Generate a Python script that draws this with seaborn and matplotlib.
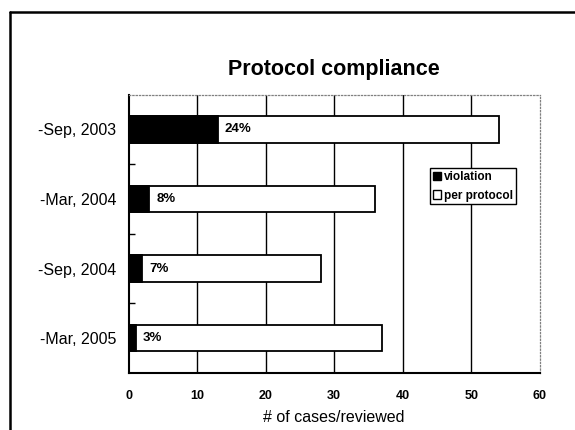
import matplotlib
matplotlib.use("Agg")
import matplotlib.pyplot as plt
from matplotlib.lines import Line2D
from matplotlib.patches import Patch
import seaborn as sns
import pandas as pd

categories = ["-Sep, 2003", "-Mar, 2004", "-Sep, 2004", "-Mar, 2005"]
violation = [13, 3, 2, 1]
per_protocol = [41, 33, 26, 36]
pct_labels = ["24%", "8%", "7%", "3%"]
xticks = [0, 10, 20, 30, 40, 50, 60]

sns.set_style("white")
plt.rcParams["font.family"] = ["Liberation Sans", "DejaVu Sans"]
plt.rcParams["text.color"] = "black"
plt.rcParams["axes.labelcolor"] = "black"
plt.rcParams["xtick.color"] = "black"
plt.rcParams["ytick.color"] = "black"

df = pd.DataFrame({"cat": categories, "violation": violation, "per_protocol": per_protocol})
df["total"] = df["violation"] + df["per_protocol"]

fig = plt.figure(figsize=(5.75, 4.3), dpi=100)
ax = fig.add_axes([0.2238, 0.1326, 0.715, 0.6474])

sns.barplot(data=df, x="total", y="cat", orient="h", color="white", saturation=1,
            edgecolor="black", linewidth=1.3, width=0.38, ax=ax, zorder=3)
sns.barplot(data=df, x="violation", y="cat", orient="h", color="black", saturation=1,
            edgecolor="black", linewidth=1.3, width=0.38, ax=ax, zorder=4)

for i, (v, lab) in enumerate(zip(df["violation"], pct_labels)):
    ax.annotate(lab, xy=(v, i), xytext=(5, 0), textcoords="offset points",
                ha="left", va="center", fontsize=9.5, fontweight="bold", zorder=5,
                color="black")

ax.set_xlim(0, 60)
ax.set_ylim(3.5, -0.5)
ax.set_xticks(xticks)
ax.set_xticklabels([str(t) for t in xticks], fontsize=9, fontweight="bold")
ax.tick_params(axis="x", length=0, pad=12, labelcolor="black")
ax.tick_params(axis="y", which="major", length=0, pad=9, labelsize=11.5, labelcolor="black")
ax.set_yticks([0.5, 1.5, 2.5], minor=True)
ax.tick_params(axis="y", which="minor", direction="in", length=4, width=1, left=True, color="black")

ax.set_ylabel("")
ax.set_xlabel("# of cases/reviewed", fontsize=11.5, labelpad=6, color="black")
ax.set_title("Protocol compliance", fontsize=15.5, fontweight="bold", pad=14, color="black")

ax.grid(axis="x", color="black", linewidth=1.0)
ax.set_axisbelow(True)
gls = ax.xaxis.get_gridlines()
gls[0].set_visible(False)
gls[-1].set_visible(False)

for s in ["left", "bottom"]:
    ax.spines[s].set_color("black")
    ax.spines[s].set_linewidth(1.5)
for s in ["top", "right"]:
    ax.spines[s].set_color("gray")
    ax.spines[s].set_linewidth(0.9)
    ax.spines[s].set_linestyle(":")

handles = [Patch(facecolor="black", edgecolor="black", label="violation"),
           Patch(facecolor="white", edgecolor="black", label="per protocol")]
leg = ax.legend(handles=handles, loc="upper left", bbox_to_anchor=(0.733, 0.736),
                borderaxespad=0, fancybox=False, edgecolor="black", framealpha=1,
                prop={"size": 8.5, "weight": "bold"}, handlelength=0.7, handleheight=0.7,
                handletextpad=0.2, borderpad=0.25, labelspacing=0.55)
leg.get_frame().set_linewidth(1.0)
leg.set_zorder(6)

fig.add_artist(Line2D([10 / 575, 10 / 575], [0, 1 - 12 / 430], color="black", linewidth=1.8))
fig.add_artist(Line2D([10 / 575, 1], [1 - 12 / 430, 1 - 12 / 430], color="black", linewidth=1.8))

fig.savefig("out.png", dpi=100)
